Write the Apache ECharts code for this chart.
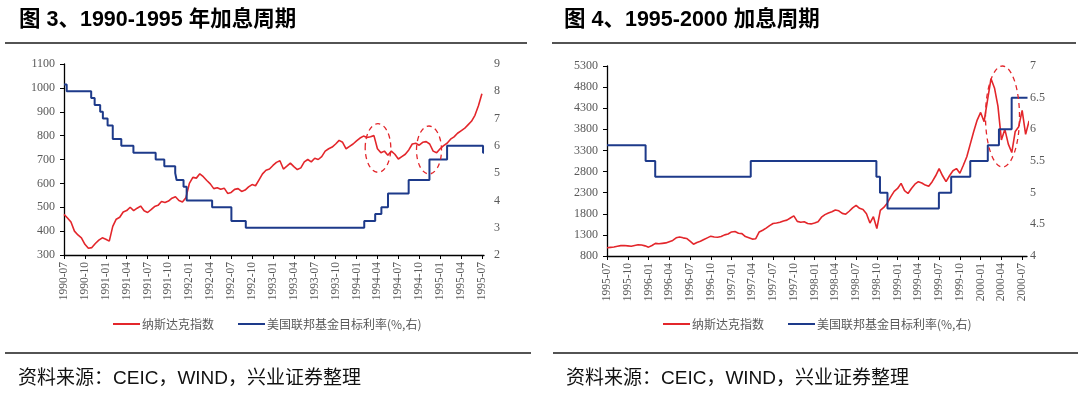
<!DOCTYPE html>
<html>
<head>
<meta charset="utf-8">
<script src="https://cdn.jsdelivr.net/npm/echarts@6/dist/echarts.min.js"></script>
<style>
html, body { margin: 0; padding: 0; background: #fff; }
#main { width: 1080px; height: 398px; }
</style>
</head>
<body>
<div id="main"></div>
<script>
// 图3：1990-07 起，半月一个点
var origin1 = '1990-07';
var quarterLabels1 = ['1990-07', '1990-10', '1991-01', '1991-04', '1991-07', '1991-10', '1992-01', '1992-04',
    '1992-07', '1992-10', '1993-01', '1993-04', '1993-07', '1993-10', '1994-01', '1994-04', '1994-07',
    '1994-10', '1995-01', '1995-04', '1995-07'];
var nasdaq1 = [
    470, 455, 438, 400, 384, 372, 345, 328, 331, 348, 362, 372,
    366, 358, 420, 450, 458, 480, 486, 500, 486, 496, 505, 485,
    478, 490, 503, 508, 524, 520, 526, 538, 544, 528, 522, 540,
    600, 625, 622, 640, 628, 612, 598, 578, 582, 575, 580, 558,
    562, 575, 578, 566, 572, 585, 595, 590, 615, 640, 655, 660,
    675, 688, 695, 660, 672, 685, 670, 658, 665, 690, 700, 690,
    705, 700, 712, 735, 745, 752, 765, 780, 772, 745, 755, 765,
    778, 790, 798, 792, 795, 800, 745, 728, 735, 718, 735, 722,
    702, 712, 722, 740, 765, 768, 760, 772, 775, 765, 735, 728,
    745, 758, 768, 785, 795, 810, 820, 830, 845, 860, 885, 925,
    975
];
var fedDates1 = ['1990-07-01', '1990-07-13', '1990-10-29', '1990-11-13', '1990-12-07', '1990-12-19',
    '1991-01-09', '1991-02-01', '1991-03-08', '1991-04-30', '1991-08-06', '1991-09-13', '1991-10-31',
    '1991-11-06', '1991-12-06', '1991-12-20', '1992-04-09', '1992-07-02', '1992-09-04', '1994-02-04',
    '1994-03-22', '1994-04-18', '1994-05-17', '1994-08-16', '1994-11-15', '1995-02-01', '1995-07-06',
    '1995-07-10'];
var fedRates1 = [8.25, 8, 7.75, 7.5, 7.25, 7, 6.75, 6.25, 6, 5.75, 5.5, 5.25, 5, 4.75, 4.5, 4, 3.75,
    3.25, 3, 3.25, 3.5, 3.75, 4.25, 4.75, 5.5, 6, 5.75, 5.75];

// 图4：1995-07 起，半月一个点
var origin2 = '1995-07';
var quarterLabels2 = ['1995-07', '1995-10', '1996-01', '1996-04', '1996-07', '1996-10', '1997-01', '1997-04',
    '1997-07', '1997-10', '1998-01', '1998-04', '1998-07', '1998-10', '1999-01', '1999-04', '1999-07',
    '1999-10', '2000-01', '2000-04', '2000-07'];
var nasdaq2 = [
    995, 1005, 1015, 1030, 1045, 1050, 1040, 1030, 1050, 1065, 1060, 1040,
    1010, 1050, 1100, 1090, 1100, 1110, 1140, 1170, 1230, 1250, 1230, 1215,
    1150, 1080, 1120, 1150, 1190, 1230, 1270, 1250, 1245, 1260, 1300, 1320,
    1370, 1380, 1340, 1330, 1260, 1230, 1200, 1210, 1370, 1410, 1460, 1520,
    1570, 1580, 1600, 1630, 1650, 1700, 1750, 1620, 1600, 1610, 1570, 1560,
    1580, 1610, 1720, 1780, 1820, 1850, 1890, 1870, 1810, 1790, 1860, 1940,
    2000, 1930, 1900, 1800, 1580, 1730, 1450, 1880, 1950, 2050, 2200, 2330,
    2400, 2520, 2350, 2280, 2400, 2500, 2560, 2530, 2480, 2450, 2560, 2700,
    2870, 2700, 2560, 2700, 2820, 2870, 2760, 2950, 3150, 3450, 3750, 4020,
    4200, 3980, 4500, 5000, 4780, 4350, 3550, 3800, 3450, 3250, 3750, 3860,
    4250, 3680, 4000
];
var fedDates2 = ['1995-07-01', '1995-12-19', '1996-01-31', '1997-03-25', '1998-09-29', '1998-10-15',
    '1998-11-17', '1999-06-30', '1999-08-24', '1999-11-16', '2000-02-02', '2000-03-21', '2000-05-16',
    '2000-07-25'];
var fedRates2 = [5.75, 5.5, 5.25, 5.5, 5.25, 5, 4.75, 5, 5.25, 5.5, 5.75, 6, 6.5, 6.5];

var RED = '#E3262B';
var BLUE = '#1D3A8A';
var GREY = '#595959';
var SERIF = '"Liberation Serif", "Times New Roman", serif';
var CJK = '"Liberation Sans", "Noto Sans CJK SC", sans-serif';

// 日期 -> 距起点的月数
function toMonth(str, origin) {
    var p = str.split('-').map(Number);
    var o = origin.split('-').map(Number);
    var d = p[2] || 1;
    var dim = new Date(p[0], p[1], 0).getDate();
    return (p[0] - o[0]) * 12 + (p[1] - o[1]) + (d - 1) / dim;
}
function halfMonth(values) {
    return values.map(function (v, i) { return [i / 2, v]; });
}
function steps(dates, rates, origin) {
    return dates.map(function (d, i) { return [toMonth(d, origin), rates[i]]; });
}

function xAxisCfg(gridIndex, labels, origin, max) {
    var ticks = labels.map(function (l) { return toMonth(l, origin); });
    return {
        type: 'value', gridIndex: gridIndex, min: 0, max: max,
        axisLine: { lineStyle: { color: '#000', width: 1.3 } },
        axisTick: { show: true, length: 4, customValues: ticks, lineStyle: { color: '#000' } },
        axisLabel: {
            customValues: ticks, rotate: 90, margin: 7, fontSize: 11.5, color: GREY, fontFamily: SERIF,
            formatter: function (v) { return labels[Math.round(v / 3)]; }
        },
        splitLine: { show: false }
    };
}
function plainNum(v) { return String(v); }
function leftAxis(gridIndex, min, max, interval) {
    return {
        type: 'value', gridIndex: gridIndex, position: 'left', min: min, max: max, interval: interval,
        axisLine: { show: true, lineStyle: { color: '#000', width: 1.3 } },
        axisTick: { show: true, length: 4, lineStyle: { color: '#000' } },
        axisLabel: { fontSize: 12, color: GREY, fontFamily: SERIF, margin: 9, formatter: plainNum },
        splitLine: { show: false }
    };
}
function rightAxis(gridIndex, min, max, interval, margin) {
    return {
        type: 'value', gridIndex: gridIndex, position: 'right', min: min, max: max, interval: interval,
        axisLine: { show: false }, axisTick: { show: false },
        axisLabel: { fontSize: 12, color: GREY, fontFamily: SERIF, margin: margin, formatter: plainNum },
        splitLine: { show: false }
    };
}
function legendCfg(left) {
    return {
        left: left, top: 318, padding: 0, itemWidth: 27, itemHeight: 2, itemGap: 24, icon: 'rect',
        data: ['纳斯达克指数', '美国联邦基金目标利率(%,右)'],
        textStyle: { fontSize: 12, color: GREY, fontFamily: '"Noto Sans CJK SC", serif', padding: [0, 0, 0, -3] }
    };
}
function dashedEllipse(cx, cy, rx, ry) {
    return {
        type: 'ellipse', z: 100, shape: { cx: cx, cy: cy, rx: rx, ry: ry },
        style: { fill: null, stroke: RED, lineWidth: 1.3, lineDash: [5, 4] }
    };
}
function hline(x1, x2, y) {
    return {
        type: 'line', shape: { x1: x1, y1: y, x2: x2, y2: y },
        style: { stroke: '#1a1a1a', lineWidth: 1.5 }
    };
}

var chart = echarts.init(document.getElementById('main'));
chart.setOption({
    animation: false,
    // 标题与来源
    title: [
        { text: '图 3、1990-1995 年加息周期', left: 19, top: 9, padding: 0,
          textStyle: { fontSize: 21.5, fontWeight: 'bold', color: '#000', fontFamily: CJK, lineHeight: 23 } },
        { text: '图 4、1995-2000 加息周期', left: 564, top: 9, padding: 0,
          textStyle: { fontSize: 21.5, fontWeight: 'bold', color: '#000', fontFamily: CJK, lineHeight: 23 } },
        { text: '资料来源：CEIC，WIND，兴业证券整理', left: 18, top: 368, padding: 0,
          textStyle: { fontSize: 19, fontWeight: 'normal', color: '#111', fontFamily: CJK, lineHeight: 21 } },
        { text: '资料来源：CEIC，WIND，兴业证券整理', left: 566, top: 368, padding: 0,
          textStyle: { fontSize: 19, fontWeight: 'normal', color: '#111', fontFamily: CJK, lineHeight: 21 } }
    ],
    legend: [legendCfg(113), legendCfg(663)],
    grid: [
        { left: 64, top: 64, width: 420, height: 191 },
        { left: 607, top: 66, width: 420, height: 190 }
    ],
    xAxis: [
        xAxisCfg(0, quarterLabels1, origin1, 60.3),
        xAxisCfg(1, quarterLabels2, origin2, 60.7)
    ],
    yAxis: [
        leftAxis(0, 300, 1100, 100),
        rightAxis(0, 2, 9, 1, 10),
        leftAxis(1, 800, 5300, 500),
        rightAxis(1, 4, 7, 0.5, 3)
    ],
    series: [
        { name: '纳斯达克指数', type: 'line', xAxisIndex: 0, yAxisIndex: 0, showSymbol: false,
          data: halfMonth(nasdaq1), lineStyle: { color: RED, width: 1.6 }, itemStyle: { color: RED } },
        { name: '美国联邦基金目标利率(%,右)', type: 'line', xAxisIndex: 0, yAxisIndex: 1, step: 'end',
          showSymbol: false, z: 3, data: steps(fedDates1, fedRates1, origin1),
          lineStyle: { color: BLUE, width: 2 }, itemStyle: { color: BLUE } },
        { name: '纳斯达克指数', type: 'line', xAxisIndex: 1, yAxisIndex: 2, showSymbol: false,
          data: halfMonth(nasdaq2), lineStyle: { color: RED, width: 1.6 }, itemStyle: { color: RED } },
        { name: '美国联邦基金目标利率(%,右)', type: 'line', xAxisIndex: 1, yAxisIndex: 3, step: 'end',
          showSymbol: false, z: 3, data: steps(fedDates2, fedRates2, origin2),
          lineStyle: { color: BLUE, width: 2 }, itemStyle: { color: BLUE } }
    ],
    graphic: [
        hline(5, 527, 43), hline(552, 1076, 43),
        hline(5, 531, 353), hline(553, 1078, 353),
        dashedEllipse(378, 148, 12.8, 24.3),
        dashedEllipse(429, 150, 12.5, 24),
        dashedEllipse(1002.5, 116.5, 17, 50.5)
    ]
});
</script>
</body>
</html>
